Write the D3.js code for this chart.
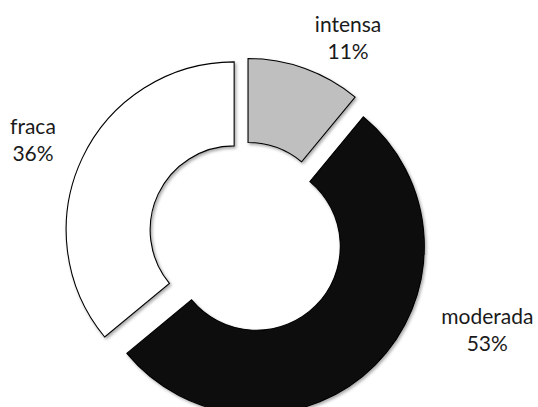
<!DOCTYPE html>
<html>
<head>
<meta charset="utf-8">
<script src="https://cdn.jsdelivr.net/npm/d3@7"></script>
<style>
  html, body { margin: 0; padding: 0; background: #fff; }
  svg { display: block; }
</style>
</head>
<body>
<svg id="chart" width="538" height="407"></svg>
<script>
// Share of each intensity class (percent)
const categories = ["intensa", "moderada", "fraca"];
const shares = [11, 53, 36];
const shareLabels = ["11%", "53%", "36%"];

// Styling per slice
const sliceFills = ["#bfbfbf", "#0d0d0d", "#ffffff"];
const explode = [9, 16, 12];              // pull-out distance along the slice bisector
const labelRadius = [216, 263, 229.5];    // distance of the label block from the centre
const labelTurn = [8.7, -22.1, -2.7];     // degrees the label is turned from the bisector

const width = 538, height = 407;
const cx = 245, cy = 235;
const outerR = 168, innerR = 84;

const svg = d3.select("#chart");

const defs = svg.append("defs");
const shadow = defs.append("filter")
  .attr("id", "soft-shadow")
  .attr("x", "-10%").attr("y", "-10%")
  .attr("width", "130%").attr("height", "130%");
shadow.append("feDropShadow")
  .attr("dx", 1.5).attr("dy", 1.8)
  .attr("stdDeviation", 1.4)
  .attr("flood-color", "#000")
  .attr("flood-opacity", 0.35);

const data = categories.map((c, i) => ({ name: c, value: shares[i], label: shareLabels[i], i }));

const pie = d3.pie()
  .sort(null)
  .value(d => d.value)
  .startAngle(0)
  .endAngle(2 * Math.PI);

const arcs = pie(data);

const arc = d3.arc()
  .innerRadius(innerR)
  .outerRadius(outerR);

const g = svg.append("g").attr("transform", `translate(${cx},${cy})`);

g.selectAll("path.slice")
  .data(arcs)
  .join("path")
  .attr("class", "slice")
  .attr("d", arc)
  .attr("transform", d => {
    const mid = (d.startAngle + d.endAngle) / 2;
    const k = explode[d.data.i];
    return `translate(${Math.sin(mid) * k},${-Math.cos(mid) * k})`;
  })
  .attr("fill", d => sliceFills[d.data.i])
  .attr("stroke", "#000")
  .attr("stroke-width", 1.1)
  .attr("stroke-linejoin", "miter")
  .attr("filter", "url(#soft-shadow)");

// Category name and percentage, two lines per label
const labels = g.selectAll("text.lbl")
  .data(arcs)
  .join("text")
  .attr("class", "lbl")
  .attr("text-anchor", "middle")
  .attr("font-family", "Lato, 'Open Sans', sans-serif")
  .attr("font-size", 21)
  .attr("fill", "#1a1a1a")
  .attr("transform", d => {
    const mid = (d.startAngle + d.endAngle) / 2 + labelTurn[d.data.i] * Math.PI / 180;
    const r = labelRadius[d.data.i];
    return `translate(${Math.sin(mid) * r},${-Math.cos(mid) * r})`;
  });

labels.append("tspan")
  .attr("x", 0)
  .attr("y", -13.5)
  .text(d => d.data.name);

labels.append("tspan")
  .attr("x", 0)
  .attr("y", 13.5)
  .text(d => d.data.label);
</script>
</body>
</html>
